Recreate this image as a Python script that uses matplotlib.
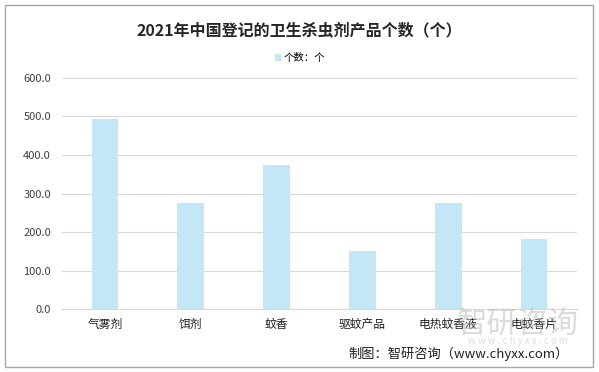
import numpy as np
import matplotlib.pyplot as plt
from matplotlib.patches import Rectangle

plt.rcParams['font.family'] = ['Noto Sans CJK SC', 'DejaVu Sans']

categories = ['气雾剂', '饵剂', '蚊香', '驱蚊产品', '电热蚊香液', '电蚊香片']
counts = [493, 275, 374, 151, 275, 182]
yticks = [0, 100, 200, 300, 400, 500, 600]

fig = plt.figure(figsize=(5.99, 3.72), dpi=100)
ax = fig.add_axes([62 / 599, 1 - 309.3 / 372, 515 / 599, 231.6 / 372])

x = np.arange(len(categories))
ax.bar(x, counts, width=0.31, color='#C4E7F7', label='个数：个', zorder=2)

ax.set_xlim(-0.5, len(categories) - 0.5)
ax.set_ylim(0, 600)
ax.set_yticks(yticks)
ax.set_yticklabels([f'{v:.1f}' for v in yticks], fontsize=8, color='#404040')
ax.set_xticks(x)
ax.set_xticklabels(categories, fontsize=8.5, color='#202020')
ax.tick_params(length=0, pad=6)
ax.tick_params(axis='y', pad=8)
ax.grid(axis='y', color='#D9D9D9', linewidth=0.8, zorder=0)
for s in ['top', 'right', 'left']:
    ax.spines[s].set_visible(False)
ax.spines['bottom'].set_color('#D9D9D9')

# title and legend
fig.text(0.5, 1 - 30 / 372, '2021年中国登记的卫生杀虫剂产品个数（个）', ha='center', va='center',
         fontsize=11.5, fontweight='bold', color='#262626')
ax.legend(loc='center', bbox_to_anchor=(300 / 599, 1 - 58 / 372), bbox_transform=fig.transFigure,
          frameon=False, fontsize=7.5, handlelength=0.6, handleheight=0.6, handletextpad=0.3)

# watermark (faint, behind)
fig.text(518 / 599, 1 - 324 / 372, '智研咨询', ha='center', va='center', fontsize=22,
         color='#B8B8B8', alpha=0.5, zorder=0)
fig.text(518 / 599, 1 - 341 / 372, 'w w w . c h y x x . c o m', ha='center', va='center', fontsize=7,
         color='#C8C8C8', alpha=0.6, zorder=0)

# source
fig.text(569 / 599, 1 - 354 / 372, '制图：智研咨询（www.chyxx.com）', ha='right', va='center',
         fontsize=9.5, color='#202020')

# border
fig.patches.append(Rectangle((5 / 599, 5 / 372), 588 / 599, 362 / 372, transform=fig.transFigure,
                             fill=False, edgecolor='#A6A6A6', linewidth=1))

fig.savefig('out.png', dpi=100)
